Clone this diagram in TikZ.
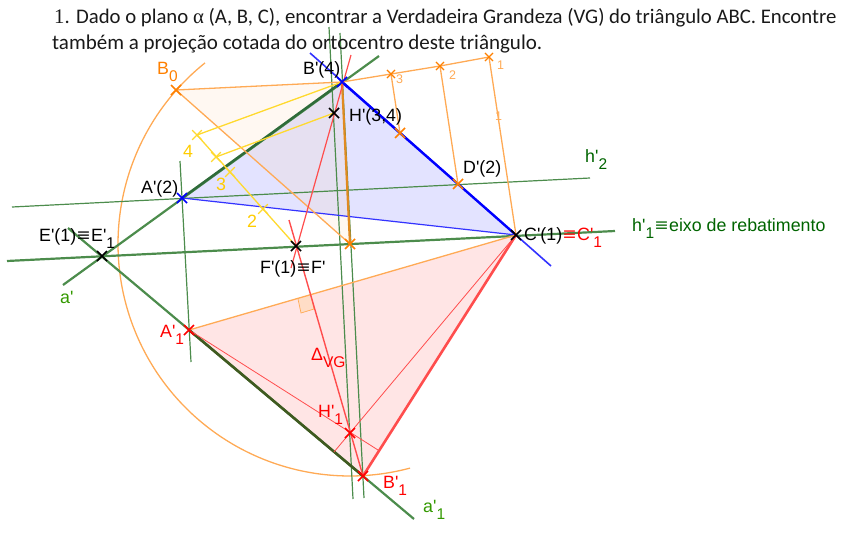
\documentclass[tikz,border=0pt]{standalone}
\usepackage{fontspec}
\setmainfont{Liberation Sans}
\newfontfamily\lblfont{Liberation Sans}
\newfontfamily\headfont{Carlito}
\newfontfamily\serifhead{Liberation Serif}
\usetikzlibrary{shapes.misc}
\definecolor{gline}{HTML}{4C8C4C}
\definecolor{gdark}{HTML}{2F6B3A}
\definecolor{golive}{HTML}{3F5A20}
\definecolor{gtext}{HTML}{006400}
\definecolor{gtextb}{HTML}{339900}
\definecolor{orl}{HTML}{FFAA55}
\definecolor{ord}{HTML}{FF8000}
\definecolor{ordk}{HTML}{E08A20}
\definecolor{yel}{HTML}{FFD92E}
\definecolor{yeltext}{HTML}{FFCC00}
\definecolor{redl}{HTML}{FF4D4D}
\definecolor{bluel}{HTML}{3333FF}
\newcommand{\lowsub}[1]{\raisebox{-7.5pt}{\fontsize{15.5}{18}\selectfont #1}}
\newcommand{\eqvmark}{\hspace{1pt}\scalebox{1.25}[1]{≡}\hspace{1pt}}
\tikzset{
  lbl/.style={anchor=base west,inner sep=0pt,font=\lblfont\fontsize{17.8}{21}\selectfont},
  smallo/.style={anchor=base west,inner sep=0pt,text=orl,font=\lblfont\fontsize{12.5}{14}\selectfont},
  xm/.style={cross out,draw=#1,line width=1.5pt,minimum size=8.5pt,inner sep=0pt},
  xs/.style={cross out,draw=#1,line width=1.1pt,minimum size=7pt,inner sep=0pt},
  thing/.style={draw=gline,line width=1.2pt},
  thick green/.style={draw=gline,line width=2.2pt},
  orangeline/.style={draw=orl,line width=1.3pt},
  yelline/.style={draw=yel,line width=1.3pt},
  redline/.style={draw=redl,line width=1.2pt},
}
\begin{document}
\begin{tikzpicture}[x=1pt,y=-1pt]
\useasboundingbox (0,0) rectangle (862,533);
% points
\coordinate (B) at (342,82);
\coordinate (A) at (182,198);
\coordinate (C) at (516,235);
\coordinate (E) at (102,256);
\coordinate (F) at (296,246);
\coordinate (H) at (334,113);
\coordinate (D) at (458,184);
\coordinate (Bz) at (176,90);
\coordinate (Ar) at (189,330);
\coordinate (Br) at (363,476);
\coordinate (Hr) at (350,433);
\coordinate (O) at (350,244);
\coordinate (Q) at (400,133);
\coordinate (P3) at (391,74);
\coordinate (P2) at (440,66);
\coordinate (P1) at (489,57);
\coordinate (Y4) at (197,135);
\coordinate (Y34) at (216,157);
\coordinate (Y3) at (230,172);
\coordinate (Y2) at (263,209);
% free ends
\coordinate (bluT) at (310,53);
\coordinate (bluE) at (551,266);
\coordinate (aT) at (379,56);
\coordinate (aE) at (63,285);
\coordinate (h2L) at (12,207);
\coordinate (h2R) at (590,178);
\coordinate (h1L) at (7,261);
\coordinate (h1R) at (615,231);
\coordinate (vAT) at (180,161);
\coordinate (vAB) at (191,362);
\coordinate (vHT) at (329,27);
\coordinate (vHB) at (353,499);
\coordinate (vBT) at (340,33);
\coordinate (vBB) at (364,498);
\coordinate (a1T) at (68,228);
\coordinate (a1B) at (414,519);
\coordinate (rdT) at (289,220);
\coordinate (rhT) at (351,55);
\coordinate (rhB) at (291,268);
\coordinate (tA) at (378,450);
\coordinate (tC) at (334,452);
% fills
\fill[blue!11] (A) -- (B) -- (C) -- cycle;
\fill[orange!40!white,opacity=.13] (Bz) -- (B) -- (O) -- cycle;
\fill[red!10] (Ar) -- (Br) -- (C) -- cycle;
\fill[orange!30!white,draw=orl,line width=.7pt,fill opacity=.6] (298,299) -- (301,313) -- (314,309) -- (311,295);
% arc
\draw[orangeline] plot[domain=128.7:285,samples=90,smooth] ({350+232*cos(\x)},{244-232*sin(\x)});
% green lines
\draw[thing] (h2L) -- (h2R);
\draw[thick green] (h1L) -- (h1R);
\draw[thing] (vAT) -- (vAB);
\draw[thing] (vHT) -- (vHB);
\draw[thing] (vBT) -- (vBB);
\draw[thick green] (aE) -- (aT);
\draw[draw=gdark,line width=2.4pt] (A) -- (B);
\draw[thick green] (a1T) -- (a1B);
\draw[draw=golive,line width=2.6pt] (Ar) -- (Br);
% blue
\draw[bluel,line width=1.6pt] (bluT) -- (bluE);
\draw[blue,line width=2.4pt] (B) -- (C);
\draw[bluel,line width=1.2pt] (A) -- (C);
% orange
\draw[orangeline] (Bz) -- (B) -- (P3) -- (P2) -- (P1);
\draw[orangeline] (Bz) -- (O);
\draw[ordk,line width=2.2pt] (B) -- (O);
\draw[orangeline] (P3) -- (Q);
\draw[orangeline] (P2) -- (D);
\draw[orangeline] (P1) -- (C);
\draw[orangeline] (Ar) -- (C);
% yellow
\draw[yelline] (Y4) -- (F);
\draw[yelline] (Y4) -- (B);
\draw[yelline] (Y34) -- (H);
% red
\draw[redline] (rhT) -- (rhB);
\draw[redline,line width=1.4pt] (rdT) -- (Br);
\draw[redline,line width=.8pt] (Ar) -- (tA);
\draw[redline,line width=.8pt] (C) -- (tC);
\draw[redl,line width=2.6pt] (Br) -- (C);
% crosses
\node[xm=black] (xE) at (E) {};
\node[xm=black] (xF) at (F) {};
\node[xm=black] (xH) at (H) {};
\node[xm=black] (xC) at (C) {};
\node[xm=blue] (xA) at (A) {};
\node[xm=blue] (xB) at (B) {};
\node[xm=ord] (xBz) at (Bz) {};
\node[xm=ord] (xD) at (D) {};
\node[xm=ord] (xQ) at (Q) {};
\node[xm=ord] (xO) at (O) {};
\node[xs=ord] (x3) at (P3) {};
\node[xs=ord] (x2) at (P2) {};
\node[xs=ord] (x1) at (P1) {};
\node[xm=yel,line width=1.2pt] (xY4) at (Y4) {};
\node[xm=yel,line width=1.2pt] (xY34) at (Y34) {};
\node[xm=yel,line width=1.2pt] (xY3) at (Y3) {};
\node[xm=yel,line width=1.2pt] (xY2) at (Y2) {};
\node[xm=red] (xAr) at (Ar) {};
\node[xm=red] (xHr) at (Hr) {};
\node[xm=red] (xBr) at (Br) {};
% header
\node[anchor=base west,inner sep=0pt,font=\headfont\fontsize{20.75}{24}\selectfont,text=black!90] (t1) at (54,23) {{\serifhead 1}. Dado o plano {\serifhead α} (A, B, C), encontrar a Verdadeira Grandeza (VG) do triângulo ABC. Encontre};
\node[anchor=base west,inner sep=0pt,font=\headfont\fontsize{21}{24}\selectfont,text=black!90] (t2) at (52,49) {também a projeção cotada do ortocentro deste triângulo.};
% labels
\node[lbl,text=ord] (lBz) at (157,74) {B\lowsub{0}};
\node[lbl] (lB) at (303,74) {B'(4)};
\node[lbl] (lH) at (349,121) {H'(3,4)};
\node[lbl] (lA) at (141,193) {A'(2)};
\node[lbl] (lE) at (39,241) {E'(1)\eqvmark E'\lowsub{1}};
\node[lbl] (lF) at (260,273) {F'(1)\eqvmark F'};
\node[lbl] (lD) at (463,173) {D'(2)};
\node[lbl] (lC) at (524,240) {C'(1)\textcolor{red}{\eqvmark C'\lowsub{1}}};
\node[lbl,text=gtext] (lh2) at (585,162) {h'\lowsub{2}};
\node[lbl,text=gtext] (lh1) at (632,231) {h'\lowsub{1}\eqvmark eixo de rebatimento};
\node[lbl,text=gtextb] (la) at (60,303) {a'};
\node[lbl,text=red] (lAr) at (160,337) {A'\lowsub{1}};
\node[lbl,text=red] (lVG) at (311,360) {Δ\lowsub{VG}};
\node[lbl,text=red] (lHr) at (318,417) {H'\lowsub{1}};
\node[lbl,text=red] (lBr) at (383,488) {B'\lowsub{1}};
\node[lbl,text=gtextb] (la1) at (423,512) {a'\lowsub{1}};
\node[lbl,text=yeltext] (y4) at (183,157) {4};
\node[lbl,text=yeltext] (y3) at (216,190) {3};
\node[lbl,text=yeltext] (y2) at (247,227) {2};
\node[smallo] (o3) at (396,83) {3};
\node[smallo] (o2) at (449,79) {2};
\node[smallo] (o1) at (497,69) {1};
\node[smallo] (o1b) at (495,120) {1};
\end{tikzpicture}
\end{document}
